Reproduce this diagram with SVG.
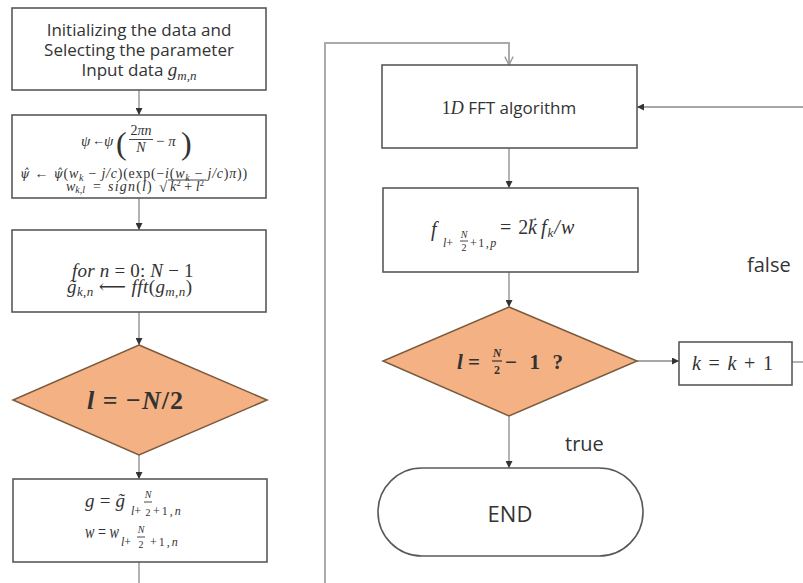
<svg xmlns="http://www.w3.org/2000/svg" width="803" height="583" viewBox="0 0 803 583">
<defs>
<marker id="ah" viewBox="0 0 10 10" refX="10" refY="5" markerWidth="7" markerHeight="7" markerUnits="userSpaceOnUse" orient="auto">
<path d="M0,0 L10,5 L0,10 z" fill="#333"/>
</marker>
<marker id="av" viewBox="0 0 12 12" refX="11" refY="6" markerWidth="10" markerHeight="10" markerUnits="userSpaceOnUse" orient="auto">
<path d="M1,1 L11,6 L1,11" fill="none" stroke="#999" stroke-width="1.6"/>
</marker>
<style>
.box{fill:#fff;stroke:#595959;stroke-width:1.6}
.dia{fill:#F4B183;stroke:#7a5a3c;stroke-width:1.5}
.con{fill:none;stroke:#8a8a8a;stroke-width:1.3}
.loop{fill:none;stroke:#aaaaaa;stroke-width:2}
.sans{font-family:"Open Sans","Noto Sans",sans-serif;fill:#333}
.m{font-family:"Liberation Serif","DejaVu Serif",serif;font-style:italic;fill:#333}
.up{font-style:normal}
.dj{font-family:"DejaVu Serif",serif}
.fb{stroke:#333;stroke-width:0.9}
</style>
</defs>
<rect width="803" height="583" fill="#fff"/>

<g id="connectors">
<line class="con" x1="139" y1="90" x2="139" y2="115" marker-end="url(#ah)"/>
<line class="con" x1="139" y1="198" x2="139" y2="230" marker-end="url(#ah)"/>
<line class="con" x1="139" y1="312" x2="139" y2="345" marker-end="url(#ah)"/>
<line class="con" x1="139" y1="455" x2="139" y2="479" marker-end="url(#ah)"/>
<line class="con" x1="139" y1="562" x2="139" y2="583"/>
<polyline class="loop" points="325,583 325,43 509,43 509,65" marker-end="url(#av)"/>
<line class="con" x1="803" y1="107" x2="637" y2="107" marker-end="url(#ah)"/>
<line class="con" x1="509" y1="148" x2="509" y2="188" marker-end="url(#ah)"/>
<line class="con" x1="509" y1="272" x2="509" y2="307" marker-end="url(#ah)"/>
<line class="con" x1="637" y1="361" x2="679" y2="361" marker-end="url(#ah)"/>
<line class="con" x1="792" y1="362" x2="803" y2="362"/>
<line class="con" x1="509" y1="416" x2="509" y2="468" marker-end="url(#ah)"/>
<text class="sans" x="747" y="272" font-size="20">false</text>
<text class="sans" x="565" y="451" font-size="20">true</text>
</g>

<g id="init">
<rect class="box" x="12" y="8" width="254" height="82"/>
<text class="sans" x="139" y="36" font-size="17" text-anchor="middle">Initializing the data and</text>
<text class="sans" x="139" y="56" font-size="17" text-anchor="middle">Selecting the parameter</text>
<text class="sans" x="139" y="76" font-size="17" text-anchor="middle">Input data <tspan class="m" font-size="19">g</tspan><tspan class="m" font-size="13" dy="4">m,n</tspan></text>
</g>

<g id="params">
<rect class="box" x="12" y="115" width="254" height="83"/>
<text class="m" x="81" y="146" font-size="15">ψ</text>
<text class="m up" x="92" y="145" font-size="13" style="font-style:normal">←</text>
<text class="m" x="104" y="146" font-size="15">ψ</text>
<text class="m up" x="116" y="154" font-size="32" style="font-style:normal">(</text>
<text class="m" x="141" y="135" font-size="14" text-anchor="middle"><tspan class="up">2</tspan>πn</text>
<line class="fb" x1="129" y1="139.5" x2="153" y2="139.5"/>
<text class="m" x="141" y="152" font-size="14" text-anchor="middle">N</text>
<text class="m" x="156" y="146" font-size="15"><tspan class="up">−</tspan> π</text>
<text class="m up" x="181" y="154" font-size="32" style="font-style:normal">)</text>
<text class="m" x="20" y="178" font-size="14" letter-spacing="0.75"><tspan class="dj" font-size="12">ψ̂</tspan> <tspan class="up">←</tspan> <tspan class="dj" font-size="12">ψ̂</tspan><tspan class="up">(</tspan>w<tspan font-size="10" dy="3">k</tspan><tspan dy="-3"> <tspan class="up">−</tspan> j/c</tspan><tspan class="up">)(exp(−</tspan>i<tspan class="up">(</tspan>w<tspan font-size="10" dy="3">k</tspan><tspan dy="-3"> <tspan class="up">−</tspan> j/c</tspan><tspan class="up">)</tspan>π<tspan class="up">))</tspan></text>
<text class="m" x="66" y="191" font-size="14">w<tspan font-size="10" dy="2">k,l</tspan></text>
<text class="m up" x="93" y="191" font-size="14" style="font-style:normal">=</text>
<text class="m" x="108" y="191" font-size="14" letter-spacing="1.2">sign<tspan class="up">(</tspan>l<tspan class="up">)</tspan></text>
<text class="m up" x="159" y="192" font-size="15" style="font-style:normal">√</text>
<line class="fb" x1="168" y1="180" x2="206" y2="180"/>
<text class="m" x="170" y="191" font-size="14">k<tspan class="up" font-size="9" dy="-5">2</tspan><tspan class="up" dy="5"> + </tspan>l<tspan class="up" font-size="9" dy="-5">2</tspan></text>
</g>

<g id="fft2d">
<rect class="box" x="12" y="230" width="254" height="82"/>
<text class="m" x="72" y="277" font-size="19" letter-spacing="0.2">for n <tspan class="up">= 0:</tspan> N <tspan class="up">− 1</tspan></text>
<text class="m" x="67" y="293" font-size="19" letter-spacing="0.4">g̃<tspan font-size="13" dy="3">k,n</tspan><tspan dy="-3" class="up"> ⟵ </tspan>fft<tspan class="up">(</tspan>g<tspan font-size="13" dy="3">m,n</tspan><tspan dy="-3" class="up">)</tspan></text>
</g>

<g id="init-l">
<polygon class="dia" points="139,345 267,400 139,455 13,400"/>
<text class="m" x="87" y="409" font-size="26" font-weight="bold" letter-spacing="1">l <tspan class="up">= −</tspan>N<tspan class="up">/2</tspan></text>
</g>

<g id="select">
<rect class="box" x="13" y="479" width="254" height="83"/>
<text class="m" x="85" y="507" font-size="19" textLength="40" lengthAdjust="spacing">g <tspan class="up">=</tspan> g̃</text>
<text class="m" x="131" y="515" font-size="12">l<tspan class="up">+</tspan></text>
<text class="m" x="148" y="498" font-size="10" text-anchor="middle">N</text>
<line class="fb" x1="144" y1="502" x2="152" y2="502"/>
<text class="m up" x="148" y="516" font-size="10" text-anchor="middle" style="font-style:normal">2</text>
<text class="m" x="153" y="515" font-size="12" letter-spacing="2"><tspan class="up">+1,</tspan>n</text>
<text class="m" x="85" y="538" font-size="18" textLength="34" lengthAdjust="spacingAndGlyphs">w <tspan class="up">=</tspan> w</text>
<text class="m" x="121" y="546" font-size="12">l<tspan class="up">+</tspan></text>
<text class="m" x="141" y="533" font-size="10" text-anchor="middle">N</text>
<line class="fb" x1="137" y1="537" x2="145" y2="537"/>
<text class="m up" x="141" y="548" font-size="10" text-anchor="middle" style="font-style:normal">2</text>
<text class="m" x="150" y="546" font-size="12" letter-spacing="2"><tspan class="up">+1,</tspan>n</text>
</g>

<g id="fft1d">
<rect class="box" x="382" y="65" width="255" height="83"/>
<text class="sans" x="509" y="114" font-size="17" text-anchor="middle"><tspan class="m" font-size="18" style="font-style:normal">1</tspan><tspan class="m" font-size="18">D</tspan> FFT algorithm</text>
</g>

<g id="compute">
<rect class="box" x="383" y="188" width="255" height="84"/>
<text class="m" x="431" y="236" font-size="20">f</text>
<text class="m" x="443" y="247" font-size="12">l<tspan class="up">+</tspan></text>
<text class="m" x="464" y="238" font-size="10" text-anchor="middle">N</text>
<line class="fb" x1="460" y1="241" x2="468" y2="241"/>
<text class="m up" x="464" y="251" font-size="10" text-anchor="middle" style="font-style:normal">2</text>
<text class="m" x="470" y="247" font-size="12" letter-spacing="1.5"><tspan class="up">+1,</tspan>p</text>
<text class="m up" x="500" y="234" font-size="20" style="font-style:normal" letter-spacing="1">= 2</text>
<text class="m" x="528" y="234" font-size="20">k</text>
<text class="m up" x="527" y="221" font-size="12" style="font-style:normal">→</text>
<text class="m" x="541" y="234" font-size="20" letter-spacing="1">f<tspan font-size="13" dy="3">k</tspan><tspan dy="-3">/w</tspan></text>
</g>

<g id="check-l">
<polygon class="dia" points="509,307 637,361 509,416 383,361"/>
<text class="m" x="457" y="369" font-size="21" font-weight="bold">l <tspan class="up">=</tspan></text>
<text class="m" x="497" y="357" font-size="12" font-weight="bold" text-anchor="middle">N</text>
<line x1="492" y1="361" x2="502" y2="361" stroke="#333" stroke-width="1.2"/>
<text class="m up" x="497" y="374" font-size="12" font-weight="bold" text-anchor="middle" style="font-style:normal">2</text>
<text class="m up" x="505" y="369" font-size="21" font-weight="bold" style="font-style:normal" textLength="58" lengthAdjust="spacing">− 1 ?</text>
</g>

<g id="incr-k">
<rect class="box" x="679" y="342" width="113" height="43"/>
<text class="m" x="692" y="370" font-size="20" textLength="81" lengthAdjust="spacing">k <tspan class="up">=</tspan> k <tspan class="up">+ 1</tspan></text>
</g>

<g id="end">
<rect class="box" x="378" y="468" width="265" height="88" rx="44" ry="44"/>
<text class="sans" x="510" y="522" font-size="22" text-anchor="middle">END</text>
</g>
</svg>
